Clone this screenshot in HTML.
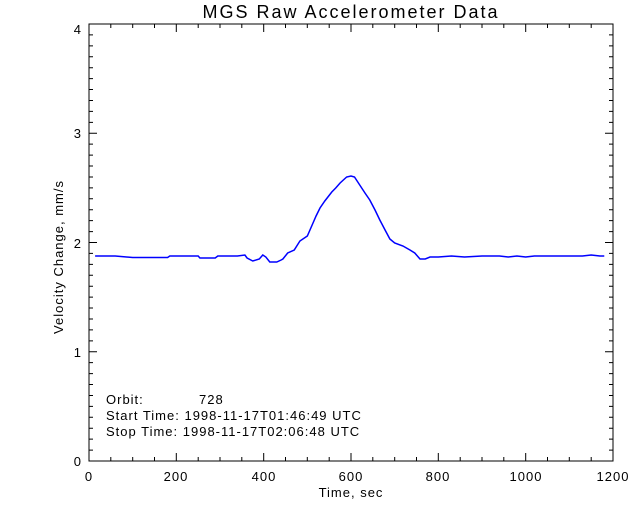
<!DOCTYPE html>
<html><head><meta charset="utf-8"><style>body{margin:0;background:#fff}svg{display:block}text{font-family:"Liberation Sans",sans-serif;font-size:13px;fill:#000;letter-spacing:1px}</style></head><body>
<svg width="640" height="512" viewBox="0 0 640 512">
<rect width="640" height="512" fill="#fff"/>
<text x="351" y="18" text-anchor="middle" style="font-size:18px;letter-spacing:2px">MGS Raw Accelerometer Data</text>
<rect x="89" y="24" width="524" height="437" fill="none" stroke="#000" stroke-width="1"/>
<g stroke="#000" stroke-width="1">
<path d="M89 461v-8M176.3 461v-8M263.7 461v-8M351 461v-8M438.3 461v-8M525.7 461v-8M89 24v8M176.3 24v8M263.7 24v8M351 24v8M438.3 24v8M525.7 24v8
M110.8 461v-4M132.7 461v-4M154.5 461v-4M198.2 461v-4M220 461v-4M241.8 461v-4M285.5 461v-4M307.3 461v-4M329.2 461v-4M372.8 461v-4M394.7 461v-4M416.5 461v-4M460.2 461v-4M482 461v-4M503.8 461v-4M547.5 461v-4M569.3 461v-4M591.2 461v-4
M110.8 24v4M132.7 24v4M154.5 24v4M198.2 24v4M220 24v4M241.8 24v4M285.5 24v4M307.3 24v4M329.2 24v4M372.8 24v4M394.7 24v4M416.5 24v4M460.2 24v4M482 24v4M503.8 24v4M547.5 24v4M569.3 24v4M591.2 24v4
M89 351.75h8M89 242.5h8M89 133.25h8M613 351.75h-8M613 242.5h-8M613 133.25h-8"/>
<path id="ym" d=""/>
</g>
<script>
var d="";for(var i=1;i<40;i++){if(i%10==0)continue;var y=461-i*10.925;d+="M89 "+y+"h4M613 "+y+"h-4";}
document.getElementById("ym").setAttribute("d",d);
</script>
<g text-anchor="middle" style="font-size:14px">
<text x="89" y="481">0</text><text x="176" y="481">200</text><text x="264" y="481">400</text><text x="351" y="481">600</text><text x="438" y="481">800</text><text x="526" y="481">1000</text><text x="613" y="481">1200</text>
<text x="351" y="497">Time, sec</text>
</g>
<g text-anchor="end" style="font-size:14px">
<text x="82" y="466">0</text><text x="82" y="357">1</text><text x="82" y="248">2</text><text x="82" y="138">3</text><text x="82" y="34">4</text>
</g>
<text transform="translate(63,257) rotate(-90)" text-anchor="middle">Velocity Change, mm/s</text>
<text x="106" y="404">Orbit:</text><text x="199" y="404">728</text>
<text x="106" y="420">Start Time: 1998-11-17T01:46:49 UTC</text>
<text x="106" y="436">Stop Time: 1998-11-17T02:06:48 UTC</text>
<polyline fill="none" stroke="#0000ff" stroke-width="1.5" points="14,256 60,256 100,257.5 180,257.5 185,256 250,256 254,258 289,258 295,256 340,256 357,255 362,258 375,261 390,259 398,255 405,257 414,262 430,262 440,260 444,259 455,253 470,250 483,241 500,236 513,223 520,216 529,208 540,201 556,192 565,188 575,183 590,177 600,176 608,177 620,185 632,193 643,200 655,210 666,220 678,230 689,239 700,243 719,246 735,250 746,253 758,259 770,259 781,257 800,257 830,256 860,257 900,256 940,256 960,257 980,256 1000,257 1020,256 1060,256 1100,256 1130,256 1150,255 1170,256 1180,256" transform="translate(89,0) scale(0.43667,1)" vector-effect="non-scaling-stroke" style="vector-effect:non-scaling-stroke"/>
</svg>
</body></html>
